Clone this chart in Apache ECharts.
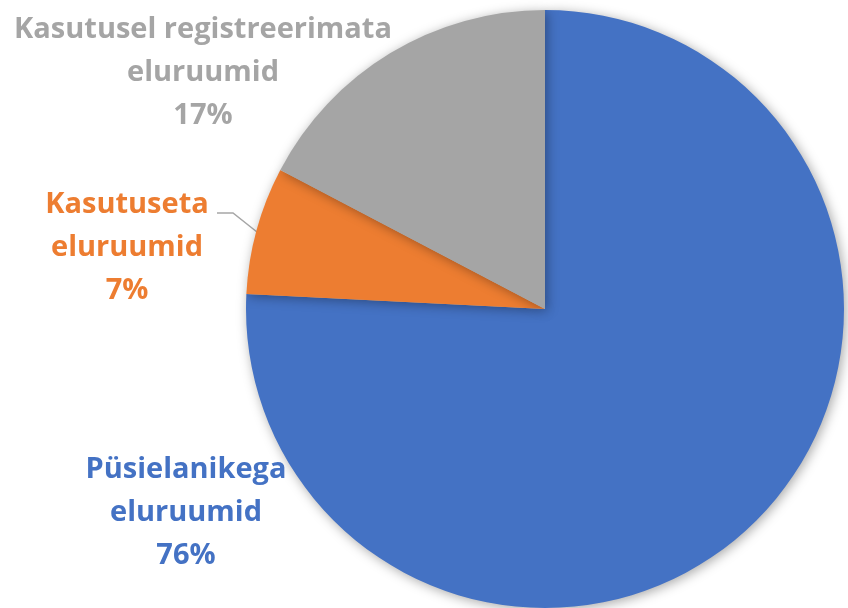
<!DOCTYPE html>
<html>
<head>
<meta charset="utf-8">
<script src="https://cdn.jsdelivr.net/npm/echarts@6/dist/echarts.min.js"></script>
<style>
  html, body { margin: 0; padding: 0; background: #fff; }
  #main { width: 848px; height: 608px; }
</style>
</head>
<body>
<div id="main"></div>
<script>
    // andmed (osakaal, %)
    var categories = ['Püsielanikega\neluruumid', 'Kasutuseta\neluruumid', 'Kasutusel registreerimata\neluruumid'];
    var values = [75.8, 6.9, 17.3];
    var colors = ['#4472C4', '#ED7D31', '#A5A5A5'];

    // sildi asukohad (keskpunkt)
    var labelPos = [[186, 513], [127, 248], [203, 73]];

    var serdata = [];
    for (var i = 0; i < categories.length; i++) {
        var temp = {};
        temp["name"] = categories[i];
        temp["value"] = values[i];
        temp["label"] = { color: colors[i] };
        temp["labelLine"] = { show: i == 1 };
        serdata.push(temp);
    }

    var option = {
        animation: false,
        color: colors,
        series: [{
            type: 'pie',
            center: [545, 309],
            radius: 299,
            startAngle: 90,
            clockwise: true,
            itemStyle: {
                shadowBlur: 12,
                shadowColor: 'rgba(0,0,0,0.35)',
                shadowOffsetX: 2,
                shadowOffsetY: 2
            },
            label: {
                show: true,
                position: 'outside',
                formatter: function (p) {
                    return p.name + '\n' + Math.round(p.percent) + '%';
                },
                fontFamily: 'Open Sans',
                fontWeight: 'bold',
                fontSize: 29,
                lineHeight: 43,
                align: 'center',
                overflow: 'none',
                width: 500
            },
            labelLine: {
                lineStyle: { color: '#A6A6A6', width: 1.5 }
            },
            labelLayout: function (params) {
                var p = labelPos[params.dataIndex];
                var res = { x: p[0], y: p[1], align: 'center', verticalAlign: 'middle' };
                if (params.dataIndex == 1) {
                    res.labelLinePoints = [[257, 232], [233, 213], [217, 213]];
                }
                return res;
            },
            emphasis: { disabled: true },
            data: serdata
        }]
    };

    var myChart = echarts.init(document.getElementById('main'));
    myChart.setOption(option);
</script>
</body>
</html>
